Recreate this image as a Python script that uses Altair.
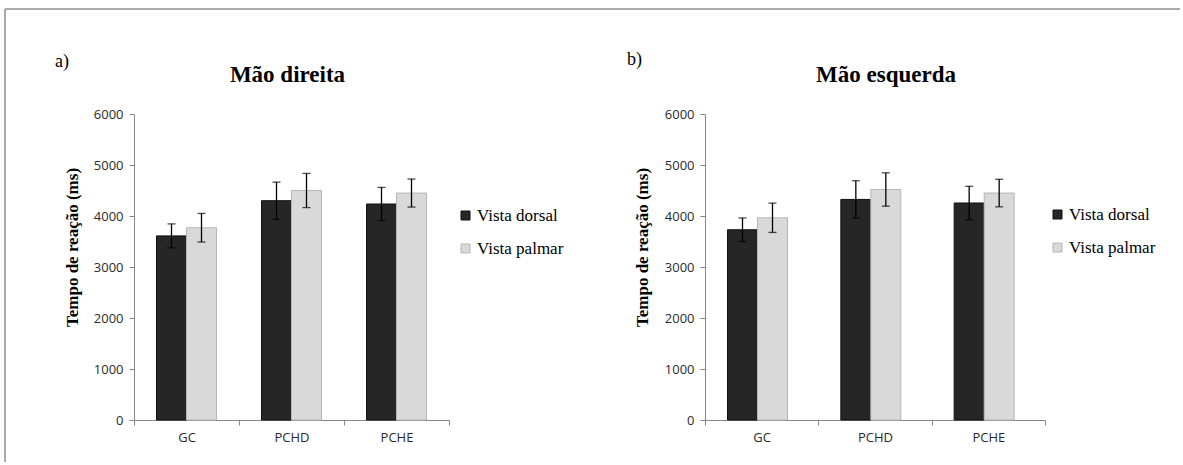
import altair as alt
import pandas as pd

# ---- data ----
grupos = ["GC", "PCHD", "PCHE"]
vistas = ["Vista dorsal", "Vista palmar"]
y_ticks = [0, 1000, 2000, 3000, 4000, 5000, 6000]

dir_dorsal = [3610, 4300, 4235]
dir_dorsal_err = [235, 365, 325]
dir_palmar = [3770, 4500, 4450]
dir_palmar_err = [280, 335, 275]

esq_dorsal = [3730, 4325, 4255]
esq_dorsal_err = [232, 366, 327]
esq_palmar = [3965, 4520, 4450]
esq_palmar_err = [287, 327, 270]

titulos = ["Mão direita", "Mão esquerda"]
letras = ["a)", "b)"]
y_titulo = "Tempo de reação (ms)"

bar_fill = ["#262626", "#d9d9d9"]
bar_stroke = ["#111111", "#b5b5b5"]
AXIS_GRAY = "#868686"
LABEL_COL = "#2a2a2a"
SERIF = "Liberation Serif"
SANS = "Open Sans"


def make_df(d, de, p, pe):
    rows = []
    for i, g in enumerate(grupos):
        rows.append({"Grupo": g, "Vista": vistas[0], "Tempo": d[i],
                     "lo": d[i] - de[i], "hi": d[i] + de[i]})
        rows.append({"Grupo": g, "Vista": vistas[1], "Tempo": p[i],
                     "lo": p[i] - pe[i], "hi": p[i] + pe[i]})
    return pd.DataFrame(rows)


def panel(df, width, height, title_text, title_x, letter, letter_x, letter_y,
          legend_x, legend_y, ytitle_x, frame=False):
    y_axis = alt.Axis(values=y_ticks, grid=False, title=y_titulo,
                      titleFont=SERIF, titleFontSize=17, titleFontWeight="bold",
                      titleColor="black", titleX=ytitle_x, titleY=133,
                      titleAngle=270, titleBaseline="middle", titleAlign="center",
                      labelFont=SANS, labelFontSize=13, labelColor=LABEL_COL,
                      labelPadding=6, tickSize=5, tickColor=AXIS_GRAY,
                      domainColor=AXIS_GRAY, format="d")
    y_scale = alt.Scale(domain=[0, 6000], nice=False)

    def Y(field):
        return alt.Y(f"{field}:Q", scale=y_scale, axis=y_axis, title=y_titulo)

    x = alt.X("Grupo:N", sort=grupos, title=None,
              scale=alt.Scale(paddingInner=0, paddingOuter=0),
              axis=alt.Axis(labelAngle=0, tickBand="extent", labelFont=SANS,
                            labelFontSize=13, labelColor=LABEL_COL,
                            labelPadding=6, tickSize=5, tickColor=AXIS_GRAY,
                            domainColor=AXIS_GRAY))
    xo = alt.XOffset("Vista:N", sort=vistas,
                     scale=alt.Scale(paddingOuter=0.75, paddingInner=0))

    base = alt.Chart(df)
    bars = base.mark_bar(strokeWidth=1).encode(
        x=x, xOffset=xo, y=Y("Tempo"),
        color=alt.Color("Vista:N", sort=vistas,
                        scale=alt.Scale(domain=vistas, range=bar_fill),
                        legend=alt.Legend(orient="none", legendX=legend_x,
                                          legendY=legend_y, title=None,
                                          symbolType="square", symbolSize=81,
                                          symbolStrokeColor="#7f7f7f",
                                          symbolStrokeWidth=1,
                                          labelFont=SERIF, labelFontSize=17,
                                          labelColor="black", labelOffset=3,
                                          rowPadding=15, padding=0)),
        stroke=alt.Stroke("Vista:N", sort=vistas,
                          scale=alt.Scale(domain=vistas, range=bar_stroke),
                          legend=None),
    )
    err = base.mark_rule(color="black", strokeWidth=1.3).encode(
        x=x, xOffset=xo, y=Y("lo"), y2="hi:Q")
    cap_hi = base.mark_tick(color="black", thickness=1.3, size=8).encode(
        x=x, xOffset=xo, y=Y("hi"))
    cap_lo = base.mark_tick(color="black", thickness=1.3, size=8).encode(
        x=x, xOffset=xo, y=Y("lo"))

    ttl = alt.Chart(pd.DataFrame({"t": [title_text]})).mark_text(
        font=SERIF, fontSize=23, fontWeight="bold", color="black",
        align="center", baseline="alphabetic").encode(
        x=alt.value(title_x), y=alt.value(-32), text="t:N")
    let = alt.Chart(pd.DataFrame({"t": [letter]})).mark_text(
        font=SERIF, fontSize=18, color="black",
        align="left", baseline="alphabetic").encode(
        x=alt.value(letter_x), y=alt.value(letter_y), text="t:N")

    layers = [bars, err, cap_hi, cap_lo, ttl, let]
    if frame:
        fr = pd.DataFrame({"f": [0]})
        top = alt.Chart(fr).mark_rule(color="#ababab", strokeWidth=2).encode(
            x=alt.value(-129), x2=alt.value(1046), y=alt.value(-105))
        left = alt.Chart(fr).mark_rule(color="#ababab", strokeWidth=2).encode(
            x=alt.value(-129), y=alt.value(-105), y2=alt.value(348))
        layers = [top, left] + layers
    return alt.layer(*layers).properties(width=width, height=height)


df_dir = make_df(dir_dorsal, dir_dorsal_err, dir_palmar, dir_palmar_err)
df_esq = make_df(esq_dorsal, esq_dorsal_err, esq_palmar, esq_palmar_err)

left = panel(df_dir, 315, 306, titulos[0], 153.5, letras[0], -79, -47,
             323, 93, -62, frame=True)
right = panel(df_esq, 340, 306, titulos[1], 181, letras[1], -78, -49,
              344, 92, -63)

chart = alt.hconcat(left, right, spacing=256, bounds="flush").resolve_scale(
    color="independent", stroke="independent"
).resolve_legend(
    color="independent", stroke="independent"
).properties(
    padding={"left": 4, "top": 8, "right": 0, "bottom": 0},
    background="white",
).configure_view(stroke=None)

chart.save("out.html", embed_options={"renderer": "svg", "actions": False})
